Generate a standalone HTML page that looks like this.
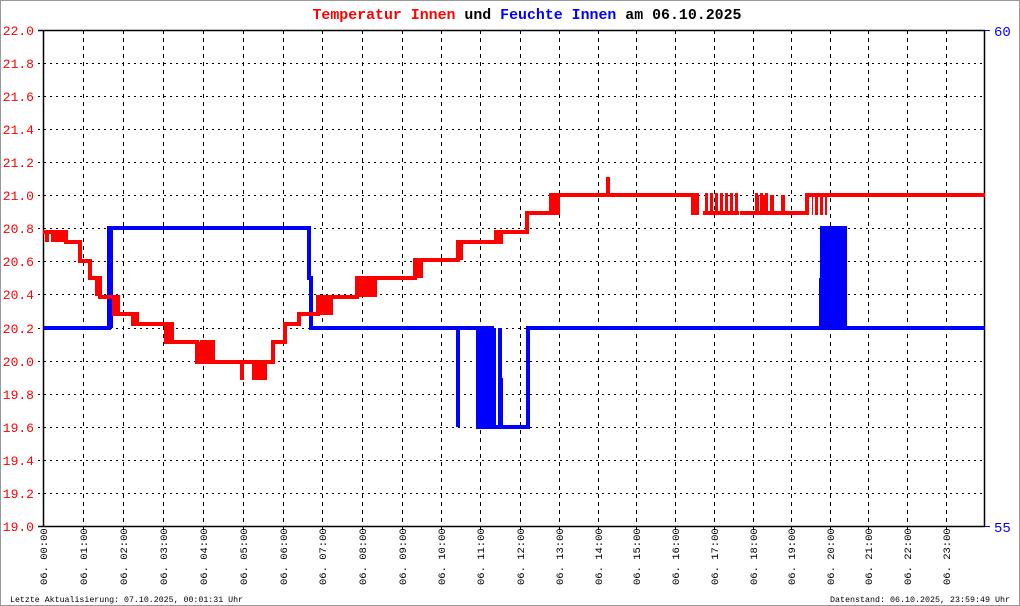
<!DOCTYPE html>
<html><head><meta charset="utf-8"><style>
html,body{margin:0;padding:0;background:#fff}
svg{display:block}
text{font-family:"Liberation Mono","DejaVu Sans Mono",monospace}
</style></head><body>
<svg width="1020" height="606" viewBox="0 0 1020 606" xmlns="http://www.w3.org/2000/svg">
<defs>
<pattern id="rs" width="5" height="10" patternUnits="userSpaceOnUse"><rect x="0" y="0" width="3" height="10" fill="#f00"/></pattern>
</defs>
<rect x="0.5" y="0.5" width="1019" height="605" fill="#fff" stroke="#999" stroke-width="1"/>
<text x="527" y="19" text-anchor="middle" font-size="15" font-weight="bold" textLength="429" lengthAdjust="spacingAndGlyphs"><tspan fill="#f00">Temperatur Innen</tspan><tspan fill="#000"> und </tspan><tspan fill="#00f">Feuchte Innen</tspan><tspan fill="#000"> am 06.10.2025</tspan></text>
<g stroke="#000" stroke-width="1" stroke-dasharray="2,4">
<line x1="38" x2="985" y1="63.5" y2="63.5"/><line x1="38" x2="985" y1="96.5" y2="96.5"/><line x1="38" x2="985" y1="129.5" y2="129.5"/><line x1="38" x2="985" y1="162.5" y2="162.5"/><line x1="38" x2="985" y1="195.5" y2="195.5"/><line x1="38" x2="985" y1="228.5" y2="228.5"/><line x1="38" x2="985" y1="261.5" y2="261.5"/><line x1="38" x2="985" y1="294.5" y2="294.5"/><line x1="38" x2="985" y1="328.5" y2="328.5"/><line x1="38" x2="985" y1="361.5" y2="361.5"/><line x1="38" x2="985" y1="394.5" y2="394.5"/><line x1="38" x2="985" y1="427.5" y2="427.5"/><line x1="38" x2="985" y1="460.5" y2="460.5"/><line x1="38" x2="985" y1="493.5" y2="493.5"/>
</g>
<g stroke="#000" stroke-width="1" stroke-dasharray="4,4">
<line y1="30" y2="531" x1="83.5" x2="83.5"/><line y1="30" y2="531" x1="123.5" x2="123.5"/><line y1="30" y2="531" x1="163.5" x2="163.5"/><line y1="30" y2="531" x1="203.5" x2="203.5"/><line y1="30" y2="531" x1="243.5" x2="243.5"/><line y1="30" y2="531" x1="283.5" x2="283.5"/><line y1="30" y2="531" x1="322.5" x2="322.5"/><line y1="30" y2="531" x1="362.5" x2="362.5"/><line y1="30" y2="531" x1="402.5" x2="402.5"/><line y1="30" y2="531" x1="441.5" x2="441.5"/><line y1="30" y2="531" x1="480.5" x2="480.5"/><line y1="30" y2="531" x1="520.5" x2="520.5"/><line y1="30" y2="531" x1="559.5" x2="559.5"/><line y1="30" y2="531" x1="598.5" x2="598.5"/><line y1="30" y2="531" x1="636.5" x2="636.5"/><line y1="30" y2="531" x1="675.5" x2="675.5"/><line y1="30" y2="531" x1="714.5" x2="714.5"/><line y1="30" y2="531" x1="753.5" x2="753.5"/><line y1="30" y2="531" x1="791.5" x2="791.5"/><line y1="30" y2="531" x1="830.5" x2="830.5"/><line y1="30" y2="531" x1="868.5" x2="868.5"/><line y1="30" y2="531" x1="907.5" x2="907.5"/><line y1="30" y2="531" x1="946.5" x2="946.5"/>
</g>
<g stroke="#000" stroke-width="1.5" fill="none">
<line x1="43.5" y1="30" x2="43.5" y2="527"/>
<line x1="38" y1="30.5" x2="985" y2="30.5"/>
<line x1="38" y1="526.5" x2="985" y2="526.5"/>
<line x1="984.5" y1="30" x2="984.5" y2="527"/>
</g>
<line x1="985" y1="30.5" x2="990" y2="30.5" stroke="#00f"/><line x1="985" y1="526.5" x2="990" y2="526.5" stroke="#00f"/>
<g stroke="#00f" stroke-width="4" fill="none">
<path d="M43,328 H109 V228 H309 V278 H311 V328 H458 V427 V328 H476 M494,328 V427 H528 V328 H820 M847,328 H985"/>
<line x1="500" y1="328" x2="500" y2="427"/>
</g>
<g fill="#00f">
<rect x="107" y="228" width="6" height="100"/>
<rect x="476" y="326" width="18" height="103"/>
<rect x="498" y="378" width="5" height="49"/>
<rect x="819" y="278" width="10" height="52"/>
<rect x="820" y="226" width="27" height="104"/>
</g>
<g stroke="#f00" stroke-width="4" fill="none">
<path d="M43,232 H66 V242 H80 V261 H90 V278 H100 V297 H114 V314 H133 V324 H166 V342 H197 V362 H273 V342 H285 V324 H299 V314 H318 V297 H357 V278 H415 V260 H458 V242 H496 V232 H527 V213 H551 V195 H691 M740,213 H807 V195 H985"/>
<path d="M47,232V242M53,232V242M57,232V242M61,232V242M64,232V242"/>
<path d="M242,362V380M608,195V177M757,213V195M765,213V195M772,213V195M783,213V195"/>
<path d="M198,342V362M202,342V360M207,342V362"/>
</g>
<g fill="#f00">
<rect x="95" y="276" width="6" height="20"/>
<rect x="112" y="295" width="8" height="20"/>
<rect x="135" y="312" width="4" height="14"/>
<rect x="166" y="322" width="8" height="22"/>
<rect x="200" y="340" width="15" height="22"/>
<rect x="252" y="360" width="15" height="20"/>
<rect x="318" y="295" width="15" height="20"/>
<rect x="357" y="276" width="20" height="21"/>
<rect x="415" y="258" width="8" height="20"/>
<rect x="458" y="240" width="5" height="20"/>
<rect x="495" y="230" width="8" height="14"/>
<rect x="551" y="193" width="9" height="22"/>
<rect x="691" y="193" width="8" height="22"/>
<rect x="827" y="193" width="0" height="0"/>
</g>
<rect x="703" y="193" width="36" height="22" fill="url(#rs)"/>
<rect x="755" y="193" width="14" height="22" fill="url(#rs)"/>
<rect x="812" y="193" width="15" height="22" fill="url(#rs)"/>
<rect x="703" y="211" width="36" height="4" fill="#f00"/>
<g font-size="13" fill="#f00" text-anchor="end">
<text x="34" y="35">22.0</text><text x="34" y="68">21.8</text><text x="34" y="101">21.6</text><text x="34" y="134">21.4</text><text x="34" y="167">21.2</text><text x="34" y="200">21.0</text><text x="34" y="233">20.8</text><text x="34" y="266">20.6</text><text x="34" y="299">20.4</text><text x="34" y="333">20.2</text><text x="34" y="366">20.0</text><text x="34" y="399">19.8</text><text x="34" y="432">19.6</text><text x="34" y="465">19.4</text><text x="34" y="498">19.2</text><text x="34" y="531">19.0</text>
</g>
<text x="994" y="36" font-size="14" fill="#00f">60</text>
<text x="994" y="532" font-size="14" fill="#00f">55</text>
<g font-size="10.5" fill="#000">
<text transform="translate(47,585) rotate(-90)">06. 00:00</text>
<text transform="translate(87,585) rotate(-90)">06. 01:00</text>
<text transform="translate(127,585) rotate(-90)">06. 02:00</text>
<text transform="translate(167,585) rotate(-90)">06. 03:00</text>
<text transform="translate(207,585) rotate(-90)">06. 04:00</text>
<text transform="translate(247,585) rotate(-90)">06. 05:00</text>
<text transform="translate(287,585) rotate(-90)">06. 06:00</text>
<text transform="translate(326,585) rotate(-90)">06. 07:00</text>
<text transform="translate(366,585) rotate(-90)">06. 08:00</text>
<text transform="translate(406,585) rotate(-90)">06. 09:00</text>
<text transform="translate(445,585) rotate(-90)">06. 10:00</text>
<text transform="translate(484,585) rotate(-90)">06. 11:00</text>
<text transform="translate(524,585) rotate(-90)">06. 12:00</text>
<text transform="translate(563,585) rotate(-90)">06. 13:00</text>
<text transform="translate(602,585) rotate(-90)">06. 14:00</text>
<text transform="translate(640,585) rotate(-90)">06. 15:00</text>
<text transform="translate(679,585) rotate(-90)">06. 16:00</text>
<text transform="translate(718,585) rotate(-90)">06. 17:00</text>
<text transform="translate(757,585) rotate(-90)">06. 18:00</text>
<text transform="translate(795,585) rotate(-90)">06. 19:00</text>
<text transform="translate(834,585) rotate(-90)">06. 20:00</text>
<text transform="translate(872,585) rotate(-90)">06. 21:00</text>
<text transform="translate(911,585) rotate(-90)">06. 22:00</text>
<text transform="translate(950,585) rotate(-90)">06. 23:00</text>
</g>
<text x="10" y="602" font-size="8" textLength="233" lengthAdjust="spacingAndGlyphs">Letzte Aktualisierung: 07.10.2025, 00:01:31 Uhr</text>
<text x="830" y="602" font-size="8" textLength="180" lengthAdjust="spacingAndGlyphs">Datenstand: 06.10.2025, 23:59:49 Uhr</text>
</svg>
</body></html>
